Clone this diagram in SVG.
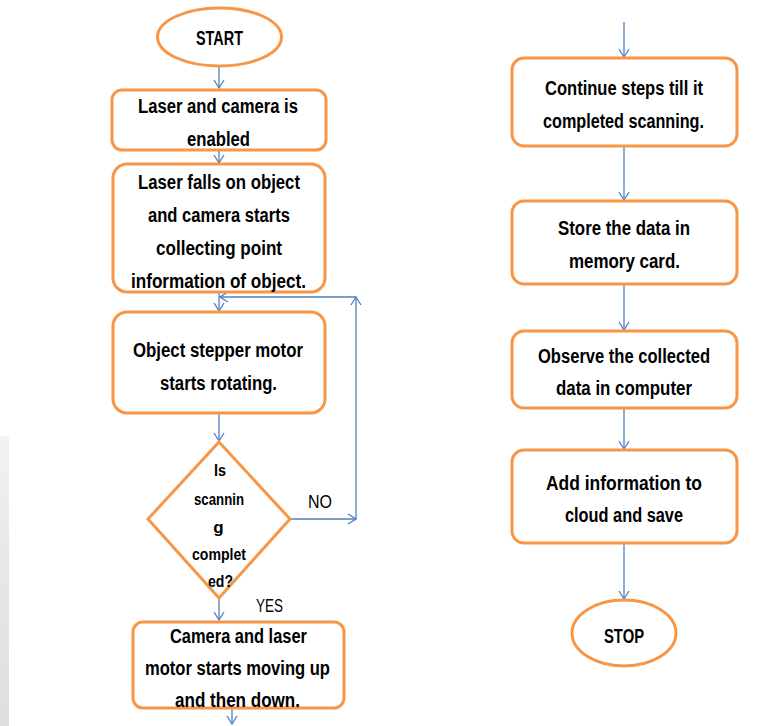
<svg xmlns="http://www.w3.org/2000/svg" width="766" height="726" viewBox="0 0 766 726">
<style>
.box{fill:#fff;stroke:#F79646;stroke-width:3}
.t{font-family:"Liberation Sans",Arial,sans-serif;font-weight:bold;font-size:20px;fill:#000;text-anchor:middle}
.d{font-size:17px}
.l{font-family:"Liberation Sans",Arial,sans-serif;font-size:19px;fill:#000;text-anchor:middle}
.c{fill:none;stroke:#4F81BD;stroke-width:1.3}
</style>
<defs>
<marker id="ah" markerWidth="10" markerHeight="12" refX="9" refY="6" orient="auto" markerUnits="userSpaceOnUse">
<path d="M1,1 L9,6 L1,11" fill="none" stroke="#4F81BD" stroke-width="1.3"/>
</marker>
<linearGradient id="edge" x1="0" y1="0" x2="0" y2="1">
<stop offset="0" stop-color="#f2f2f2"/>
<stop offset="0.4" stop-color="#e8e8e8"/>
<stop offset="1" stop-color="#dedede"/>
</linearGradient>
</defs>
<rect x="0" y="436" width="9" height="290" fill="url(#edge)"/>
<g id="connectors">
<line class="c" x1="219" y1="66" x2="219" y2="88" marker-end="url(#ah)"/>
<line class="c" x1="219" y1="151" x2="219" y2="163" marker-end="url(#ah)"/>
<line class="c" x1="219" y1="293" x2="219" y2="311" marker-end="url(#ah)"/>
<line class="c" x1="219" y1="414" x2="219" y2="441" marker-end="url(#ah)"/>
<line class="c" x1="290" y1="519" x2="356" y2="519" marker-end="url(#ah)"/>
<line class="c" x1="356" y1="519" x2="356" y2="297" marker-end="url(#ah)"/>
<line class="c" x1="356" y1="297" x2="220" y2="297" marker-end="url(#ah)"/>
<line class="c" x1="219" y1="599" x2="219" y2="620" marker-end="url(#ah)"/>
<line class="c" x1="232" y1="709" x2="232" y2="724" marker-end="url(#ah)"/>
<line class="c" x1="624" y1="22" x2="624" y2="57" marker-end="url(#ah)"/>
<line class="c" x1="624" y1="147" x2="624" y2="200" marker-end="url(#ah)"/>
<line class="c" x1="624" y1="285" x2="624" y2="330" marker-end="url(#ah)"/>
<line class="c" x1="624" y1="409" x2="624" y2="449" marker-end="url(#ah)"/>
<line class="c" x1="624" y1="544" x2="624" y2="599" marker-end="url(#ah)"/>
</g>
<g id="start">
<ellipse class="box" cx="219.5" cy="37" rx="62" ry="29"/>
<text class="t" x="219.5" y="45" textLength="47" lengthAdjust="spacingAndGlyphs">START</text>
</g>
<g id="n1">
<rect class="box" x="112" y="90" width="214" height="60" rx="10"/>
<text class="t" x="218" y="113" textLength="160" lengthAdjust="spacingAndGlyphs">Laser  and camera is</text>
<text class="t" x="218.5" y="146" textLength="63" lengthAdjust="spacingAndGlyphs">enabled</text>
</g>
<g id="n2">
<rect class="box" x="113" y="164" width="212" height="128" rx="14"/>
<text class="t" x="219" y="189" textLength="162" lengthAdjust="spacingAndGlyphs">Laser  falls on object</text>
<text class="t" x="219" y="222" textLength="142" lengthAdjust="spacingAndGlyphs">and camera starts</text>
<text class="t" x="219" y="255" textLength="126" lengthAdjust="spacingAndGlyphs">collecting  point</text>
<text class="t" x="218.5" y="288" textLength="175" lengthAdjust="spacingAndGlyphs">information of object.</text>
</g>
<g id="n3">
<rect class="box" x="113" y="312" width="212" height="101" rx="14"/>
<text class="t" x="218" y="357" textLength="170" lengthAdjust="spacingAndGlyphs">Object stepper motor</text>
<text class="t" x="218.5" y="390" textLength="117" lengthAdjust="spacingAndGlyphs">starts rotating.</text>
</g>
<g id="decision">
<polygon class="box" points="219,442 290,519 219,598 148,519"/>
<text class="t d" x="220" y="476" textLength="12" lengthAdjust="spacingAndGlyphs">Is</text>
<text class="t d" x="219" y="505" textLength="50" lengthAdjust="spacingAndGlyphs">scannin</text>
<text class="t d" x="218.5" y="533">g</text>
<text class="t d" x="219" y="560" textLength="54" lengthAdjust="spacingAndGlyphs">complet</text>
<text class="t d" x="220.5" y="587" textLength="25" lengthAdjust="spacingAndGlyphs">ed?</text>
<text class="l" x="320" y="508" textLength="24" lengthAdjust="spacingAndGlyphs">NO</text>
<text class="l" x="269.5" y="612" textLength="27" lengthAdjust="spacingAndGlyphs">YES</text>
</g>
<g id="n4">
<rect class="box" x="133" y="622" width="211" height="86" rx="10"/>
<text class="t" x="238.5" y="643" textLength="137" lengthAdjust="spacingAndGlyphs">Camera and laser</text>
<text class="t" x="237.5" y="675" textLength="185" lengthAdjust="spacingAndGlyphs">motor starts moving up</text>
<text class="t" x="237.5" y="707" textLength="125" lengthAdjust="spacingAndGlyphs">and then down.</text>
</g>
<g id="n5">
<rect class="box" x="512" y="58" width="225" height="88" rx="12"/>
<text class="t" x="624" y="95" textLength="158" lengthAdjust="spacingAndGlyphs">Continue steps till it</text>
<text class="t" x="623.5" y="128" textLength="161" lengthAdjust="spacingAndGlyphs">completed scanning.</text>
</g>
<g id="n6">
<rect class="box" x="512" y="201" width="225" height="83" rx="12"/>
<text class="t" x="624" y="235" textLength="132" lengthAdjust="spacingAndGlyphs">Store the data in</text>
<text class="t" x="624.5" y="268" textLength="111" lengthAdjust="spacingAndGlyphs">memory card.</text>
</g>
<g id="n7">
<rect class="box" x="512" y="331" width="225" height="77" rx="12"/>
<text class="t" x="624" y="363" textLength="172" lengthAdjust="spacingAndGlyphs">Observe the collected</text>
<text class="t" x="624" y="395" textLength="136" lengthAdjust="spacingAndGlyphs">data in computer</text>
</g>
<g id="n8">
<rect class="box" x="512" y="450" width="225" height="93" rx="12"/>
<text class="t" x="624" y="490" textLength="156" lengthAdjust="spacingAndGlyphs">Add  information to</text>
<text class="t" x="624" y="522" textLength="118" lengthAdjust="spacingAndGlyphs">cloud and save</text>
</g>
<g id="stop">
<ellipse class="box" cx="624" cy="633" rx="52" ry="33"/>
<text class="t" x="624" y="643" textLength="40" lengthAdjust="spacingAndGlyphs">STOP</text>
</g>
</svg>
